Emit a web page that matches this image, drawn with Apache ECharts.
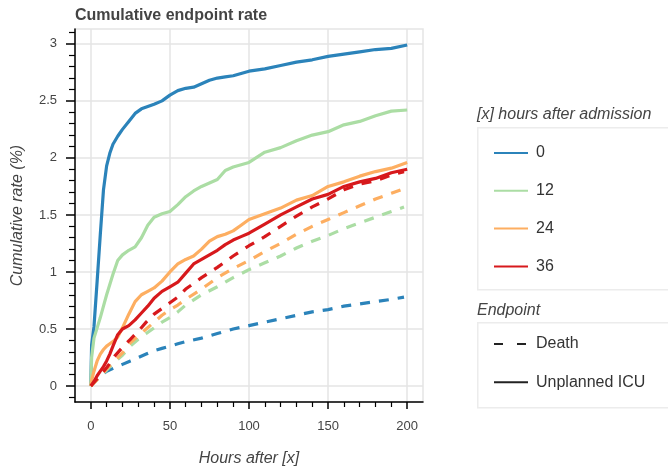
<!DOCTYPE html>
<html>
<head>
<meta charset="utf-8">
<title>Cumulative endpoint rate</title>
<script src="https://cdn.jsdelivr.net/npm/echarts@6.0.0/dist/echarts.min.js"></script>
<style>
  html, body { margin: 0; padding: 0; background: #fff; }
  #main { width: 668px; height: 467px; }
</style>
</head>
<body>
<div id="main"></div>
<script>
// hours after [x], shared by all solid (unplanned ICU) curves
var icuHours = [0, 0.5, 2, 4, 6, 8, 10, 12, 14, 17, 20, 24, 28, 32, 36, 40, 45, 50, 55, 60,
  65, 70, 75, 80, 85, 90, 95, 100, 110, 120, 130, 140, 150, 160, 170, 180, 190, 200];
var icu0 = [0, 0.36, 0.52, 0.92, 1.33, 1.72, 1.93, 2.04, 2.12, 2.19, 2.25, 2.32, 2.39, 2.43, 2.45, 2.47, 2.50, 2.55, 2.59, 2.61,
  2.62, 2.65, 2.68, 2.70, 2.71, 2.72, 2.74, 2.76, 2.78, 2.81, 2.84, 2.86, 2.89, 2.91, 2.93, 2.95, 2.96, 2.99];
var icu12 = [0, 0.25, 0.42, 0.51, 0.60, 0.70, 0.80, 0.89, 0.98, 1.10, 1.15, 1.19, 1.22, 1.30, 1.41, 1.48, 1.51, 1.53, 1.59, 1.66,
  1.71, 1.75, 1.78, 1.81, 1.89, 1.92, 1.94, 1.96, 2.05, 2.09, 2.15, 2.20, 2.23, 2.29, 2.32, 2.37, 2.41, 2.42];
var icu24 = [0, 0.05, 0.13, 0.22, 0.28, 0.32, 0.35, 0.37, 0.39, 0.43, 0.51, 0.63, 0.74, 0.80, 0.83, 0.86, 0.92, 1.00, 1.07, 1.11,
  1.14, 1.20, 1.27, 1.31, 1.33, 1.36, 1.41, 1.46, 1.51, 1.56, 1.63, 1.67, 1.75, 1.79, 1.84, 1.88, 1.91, 1.96];
var icu36 = [0, 0.01, 0.04, 0.09, 0.13, 0.17, 0.22, 0.28, 0.35, 0.45, 0.50, 0.53, 0.58, 0.64, 0.70, 0.77, 0.83, 0.87, 0.91, 0.99,
  1.07, 1.11, 1.15, 1.19, 1.24, 1.28, 1.31, 1.34, 1.42, 1.50, 1.57, 1.64, 1.68, 1.75, 1.79, 1.82, 1.87, 1.90];

// hours after [x] for the dashed (death) curves
var deathHours = [0, 5, 10, 15, 20, 25, 30, 35, 40, 45, 50, 55, 60, 70, 80, 90, 100, 110, 120, 130,
  140, 150, 160, 170, 180, 190, 198];
var death0 = [0, 0.08, 0.13, 0.16, 0.19, 0.22, 0.25, 0.28, 0.31, 0.33, 0.35, 0.37, 0.39, 0.42, 0.46, 0.50, 0.53, 0.56, 0.59, 0.62,
  0.65, 0.67, 0.70, 0.72, 0.74, 0.76, 0.78];
var death12 = [0, 0.07, 0.14, 0.21, 0.27, 0.35, 0.41, 0.46, 0.51, 0.56, 0.60, 0.65, 0.71, 0.80, 0.87, 0.95, 1.02, 1.08, 1.14, 1.21,
  1.27, 1.32, 1.38, 1.43, 1.48, 1.53, 1.57];
var death24 = [0, 0.07, 0.15, 0.22, 0.29, 0.38, 0.44, 0.50, 0.56, 0.62, 0.67, 0.71, 0.76, 0.85, 0.95, 1.03, 1.10, 1.18, 1.25, 1.33,
  1.40, 1.46, 1.52, 1.58, 1.64, 1.69, 1.73];
var death36 = [0, 0.08, 0.16, 0.26, 0.34, 0.41, 0.48, 0.56, 0.63, 0.68, 0.73, 0.78, 0.85, 0.95, 1.04, 1.14, 1.23, 1.31, 1.40, 1.49,
  1.57, 1.64, 1.72, 1.77, 1.80, 1.85, 1.88];

var groups = ['0', '12', '24', '36'];
var colors = ['#2b83ba', '#abdda4', '#fdae61', '#d7191c'];
var endpoints = ['Death', 'Unplanned ICU'];
var xTicks = [0, 50, 100, 150, 200];
var yTicks = [0, 0.5, 1, 1.5, 2, 2.5, 3];

var FONT = '"Liberation Sans", Helvetica, Arial, sans-serif';

function pairs(xs, ys) {
  return xs.map(function (x, i) { return [x, ys[i]]; });
}

var myChart = echarts.init(document.getElementById('main'), null, { renderer: 'canvas' });

var icuSets = [icu0, icu12, icu24, icu36];
var deathSets = [death0, death12, death24, death36];
var series = [];

// dashed first so the solid lines sit on top
deathSets.forEach(function (d, i) {
  series.push({
    name: groups[i] + ' death',
    type: 'line',
    data: pairs(deathHours, d),
    showSymbol: false,
    symbol: 'none',
    silent: true,
    lineStyle: { color: colors[i], width: 3.2, type: [10, 9], cap: 'butt' },
    z: 2
  });
});
icuSets.forEach(function (d, i) {
  series.push({
    name: groups[i],
    type: 'line',
    data: pairs(icuHours, d),
    showSymbol: false,
    symbol: 'none',
    silent: true,
    color: colors[i],
    lineStyle: { color: colors[i], width: 3.2 },
    z: 3
  });
});
// legend-only entries for the line style
series.push({
  name: endpoints[0], type: 'line', data: [], symbol: 'none', color: '#222',
  lineStyle: { color: '#222', width: 3, type: [9, 14] }
});
series.push({
  name: endpoints[1], type: 'line', data: [], symbol: 'none', color: '#222',
  lineStyle: { color: '#222', width: 3 }
});

var legendBase = {
  orient: 'vertical',
  left: 493,
  padding: 0,
  itemWidth: 34, itemHeight: 16,
  selectedMode: false,
  itemStyle: { opacity: 0 },
  textStyle: { fontSize: 16, color: '#333', fontFamily: FONT, padding: [0, 0, 0, 3] }
};

var option = {
  animation: false,
  textStyle: { fontFamily: FONT },
  title: {
    text: 'Cumulative endpoint rate',
    left: 75, top: 8, padding: 0,
    textStyle: { fontSize: 16, fontWeight: 'bold', color: '#444', fontFamily: FONT }
  },
  grid: {
    left: 75, right: 245, top: 29, bottom: 65,
    outerBoundsMode: 'none',
    show: true, borderColor: '#e5e5e5', borderWidth: 1.5, containLabel: false
  },
  xAxis: {
    type: 'value',
    min: -10, max: 210,
    name: 'Hours after [x]',
    nameLocation: 'middle',
    nameGap: 49,
    nameTextStyle: { fontSize: 16, fontStyle: 'italic', color: '#444', fontFamily: FONT },
    axisLine: { onZero: false, lineStyle: { color: '#000', width: 1.5 } },
    axisTick: { show: true, length: 7, customValues: xTicks, lineStyle: { color: '#000', width: 1.5 } },
    minorTick: { show: true, splitNumber: 5, length: 5, lineStyle: { color: '#000', width: 1.2 } },
    axisLabel: { customValues: xTicks, margin: 18, fontSize: 13, color: '#444', fontFamily: FONT },
    splitLine: { show: true, lineStyle: { color: '#e5e5e5', width: 1.5 } }
  },
  yAxis: {
    type: 'value',
    min: -0.14, max: 3.13,
    name: 'Cumulative rate (%)',
    nameLocation: 'middle',
    nameGap: 49,
    nameTextStyle: { fontSize: 16, fontStyle: 'italic', color: '#444', fontFamily: FONT },
    axisLine: { onZero: false, lineStyle: { color: '#000', width: 1.5 } },
    axisTick: { show: true, length: 9, customValues: yTicks, lineStyle: { color: '#000', width: 1.5 } },
    minorTick: { show: true, splitNumber: 5, length: 6, lineStyle: { color: '#000', width: 1.2 } },
    axisLabel: { customValues: yTicks, margin: 18, fontSize: 13, color: '#444', fontFamily: FONT },
    splitLine: { show: true, lineStyle: { color: '#e5e5e5', width: 1.5 } }
  },
  legend: [
    Object.assign({}, legendBase, { data: groups, top: 145, itemGap: 21.8 }),
    Object.assign({}, legendBase, { data: endpoints, top: 336, itemGap: 22.3 })
  ],
  graphic: [
    { type: 'rect', left: 477, top: 127, z: -1,
      shape: { width: 230, height: 162 },
      style: { fill: '#fff', stroke: '#ececec', lineWidth: 1.5 } },
    { type: 'rect', left: 477, top: 322, z: -1,
      shape: { width: 230, height: 85 },
      style: { fill: '#fff', stroke: '#ececec', lineWidth: 1.5 } },
    { type: 'text', left: 477, top: 107,
      style: { text: '[x] hours after admission', fill: '#444',
        font: 'italic 16px ' + FONT } },
    { type: 'text', left: 477, top: 303,
      style: { text: 'Endpoint', fill: '#444',
        font: 'italic 16px ' + FONT } }
  ],
  series: series
};
myChart.setOption(option);
</script>
</body>
</html>
